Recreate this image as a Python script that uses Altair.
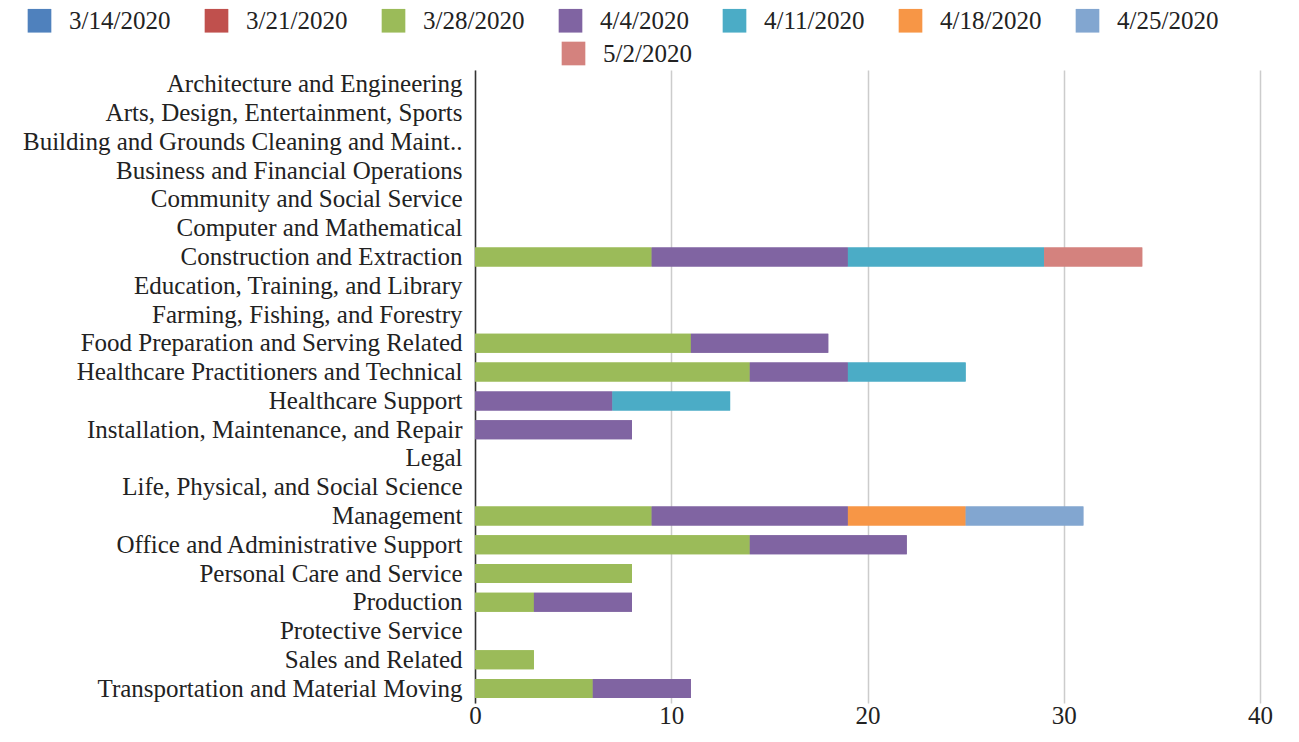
import altair as alt
import pandas as pd

categories = [
    "Architecture and Engineering",
    "Arts, Design, Entertainment, Sports",
    "Building and Grounds Cleaning and Maint..",
    "Business and Financial Operations",
    "Community and Social Service",
    "Computer and Mathematical",
    "Construction and Extraction",
    "Education, Training, and Library",
    "Farming, Fishing, and Forestry",
    "Food Preparation and Serving Related",
    "Healthcare Practitioners and Technical",
    "Healthcare Support",
    "Installation, Maintenance, and Repair",
    "Legal",
    "Life, Physical, and Social Science",
    "Management",
    "Office and Administrative Support",
    "Personal Care and Service",
    "Production",
    "Protective Service",
    "Sales and Related",
    "Transportation and Material Moving",
]

dates = ["3/14/2020", "3/21/2020", "3/28/2020", "4/4/2020",
         "4/11/2020", "4/18/2020", "4/25/2020", "5/2/2020"]

colors = ["#4f81bd", "#c0504d", "#9bbb59", "#8064a2",
          "#4bacc6", "#f79646", "#82a6d0", "#d4827e"]

v_0314 = [0, 0, 0, 0, 0, 0, 0, 0, 0, 0, 0, 0, 0, 0, 0, 0, 0, 0, 0, 0, 0, 0]
v_0321 = [0, 0, 0, 0, 0, 0, 0, 0, 0, 0, 0, 0, 0, 0, 0, 0, 0, 0, 0, 0, 0, 0]
v_0328 = [0, 0, 0, 0, 0, 0, 9, 0, 0, 11, 14, 0, 0, 0, 0, 9, 14, 8, 3, 0, 3, 6]
v_0404 = [0, 0, 0, 0, 0, 0, 10, 0, 0, 7, 5, 7, 8, 0, 0, 10, 8, 0, 5, 0, 0, 5]
v_0411 = [0, 0, 0, 0, 0, 0, 10, 0, 0, 0, 6, 6, 0, 0, 0, 0, 0, 0, 0, 0, 0, 0]
v_0418 = [0, 0, 0, 0, 0, 0, 0, 0, 0, 0, 0, 0, 0, 0, 0, 6, 0, 0, 0, 0, 0, 0]
v_0425 = [0, 0, 0, 0, 0, 0, 0, 0, 0, 0, 0, 0, 0, 0, 0, 6, 0, 0, 0, 0, 0, 0]
v_0502 = [0, 0, 0, 0, 0, 0, 5, 0, 0, 0, 0, 0, 0, 0, 0, 0, 0, 0, 0, 0, 0, 0]

series = [v_0314, v_0321, v_0328, v_0404, v_0411, v_0418, v_0425, v_0502]

rows = []
for di, (d, vals) in enumerate(zip(dates, series)):
    for c, v in zip(categories, vals):
        rows.append({"category": c, "date": d, "order": di, "value": v})
df = pd.DataFrame(rows)

FONT = "Liberation Serif"
FS = 25
color_scale = alt.Scale(domain=dates, range=colors)


def legend(vals, lx, ly):
    return alt.Legend(
        values=vals, orient="none", legendX=lx, legendY=ly,
        direction="horizontal", title=None, symbolType="square",
        symbolSize=560, symbolStrokeWidth=0, symbolOpacity=1,
        labelFont=FONT, labelFontSize=FS, labelColor="#222222",
        labelOffset=17, columnPadding=33, labelLimit=300,
    )


def bars(leg):
    return alt.Chart(df).transform_filter("datum.value > 0").mark_bar().encode(
        y=alt.Y("category:N", sort=categories,
                scale=alt.Scale(domain=categories, paddingInner=0.34, paddingOuter=0.17),
                axis=alt.Axis(title=None, labelFont=FONT, labelFontSize=FS,
                              labelColor="#222222", labelPadding=13, ticks=False,
                              domainColor="#333333", domainWidth=1.5,
                              labelLimit=600, grid=False)),
        x=alt.X("value:Q", stack="zero",
                scale=alt.Scale(domain=[0, 40], nice=False),
                axis=alt.Axis(title=None, values=[0, 10, 20, 30, 40], format="d",
                              labelFont=FONT, labelFontSize=FS, labelColor="#222222",
                              labelPadding=0, labelFlush=False, ticks=False, domain=False,
                              grid=True, gridColor="#cccccc", gridWidth=1.5)),
        color=alt.Color("date:N", scale=color_scale, legend=leg),
        order=alt.Order("order:Q"),
    )


chart = alt.layer(
    bars(legend(dates[:7], -448, -62)),
    bars(legend(dates[7:], 86, -29)),
).resolve_legend(color="independent").properties(
    width=785, height=633,
    autosize=alt.AutoSizeParams(type="none"),
    padding={"left": 467, "top": 62, "right": 31, "bottom": 26},
).configure_view(stroke=None)

chart.save("out.html", embed_options={"renderer": "svg", "actions": False})
